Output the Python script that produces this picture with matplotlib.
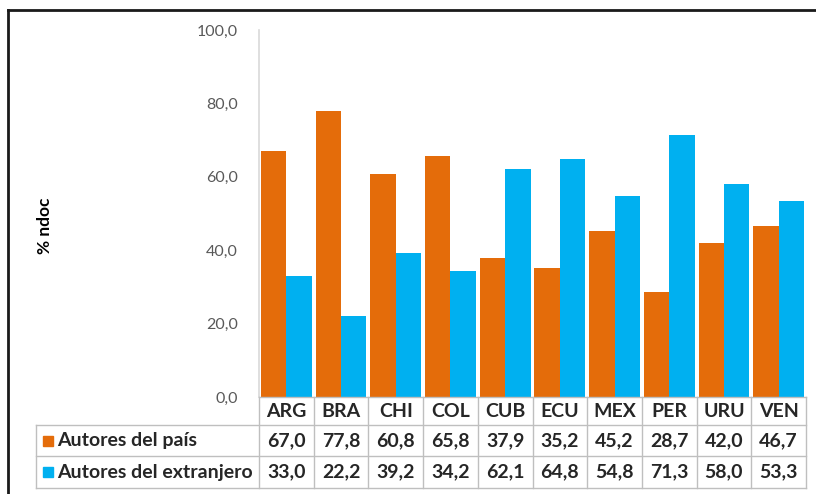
import matplotlib.pyplot as plt
import matplotlib.transforms as mtransforms
from matplotlib.lines import Line2D
from matplotlib.patches import Rectangle

plt.rcParams['font.family'] = ['Lato', 'DejaVu Sans']

paises = ['ARG', 'BRA', 'CHI', 'COL', 'CUB', 'ECU', 'MEX', 'PER', 'URU', 'VEN']
autores_pais = [67.0, 77.8, 60.8, 65.8, 37.9, 35.2, 45.2, 28.7, 42.0, 46.7]
autores_extranjero = [33.0, 22.2, 39.2, 34.2, 62.1, 64.8, 54.8, 71.3, 58.0, 53.3]
series_names = ['Autores del país', 'Autores del extranjero']
y_ticks = [0, 20, 40, 60, 80, 100]

c_pais = '#E46C0A'
c_ext = '#00B0F0'
grid_c = '#BFBFBF'

W, H = 816, 494
fig = plt.figure(figsize=(W / 100, H / 100), dpi=100)

# axes placed in pixel terms of the reference
ax_l, ax_r, ax_t, ax_b = 259, 806, 30, 397
ax = fig.add_axes([ax_l / W, (H - ax_b) / H, (ax_r - ax_l) / W, (ax_b - ax_t) / H])

x = list(range(len(paises)))
bw = 0.465
ax.bar([i - bw / 2 for i in x], autores_pais, width=bw, color=c_pais, zorder=2)
ax.bar([i + bw / 2 for i in x], autores_extranjero, width=bw, color=c_ext, zorder=2)

ax.set_xlim(-0.5, len(paises) - 0.5)
ax.set_ylim(0, 100)
ax.set_yticks(y_ticks)
ax.set_yticklabels([f'{v:.1f}'.replace('.', ',') for v in y_ticks],
                   color='#595959', fontsize=11.5)
ax.tick_params(axis='y', length=0, pad=15)
ax.set_xticks([])
for s in ['top', 'right', 'bottom']:
    ax.spines[s].set_visible(False)
ax.spines['left'].set_color('#D9D9D9')
ax.spines['left'].set_linewidth(1.2)

fig.text(45 / W, 1 - 226 / H, '% ndoc', rotation=90, fontsize=12.5,
         fontweight='bold', ha='center', va='center')

# data table under the bars: x in data units, y in pixels of the figure
px_y = lambda p: 1 - p / H
unit = (ax_r - ax_l) / len(paises)
tab_left = -0.5 - (ax_l - 36) / unit
blend = mtransforms.blended_transform_factory(ax.transData, fig.transFigure)
rows_y = [397, 425, 456, 488]

def hline(x0, x1, yp):
    fig.add_artist(Line2D([x0, x1], [px_y(yp), px_y(yp)], transform=blend,
                          color=grid_c, lw=1.0))

def vline(xd, y0, y1):
    fig.add_artist(Line2D([xd, xd], [px_y(y0), px_y(y1)], transform=blend,
                          color=grid_c, lw=1.0))

hline(-0.5, len(paises) - 0.5, rows_y[0])
for yp in rows_y[1:]:
    hline(tab_left, len(paises) - 0.5, yp)
vline(tab_left, rows_y[1], rows_y[3])
for i in range(len(paises) + 1):
    vline(i - 0.5, rows_y[0], rows_y[3])

tk = dict(transform=blend, ha='center', va='center', fontsize=14,
          fontweight='bold', color='#262626')
for i, p in enumerate(paises):
    fig.text(i, px_y((rows_y[0] + rows_y[1]) / 2), p, **tk)
    fig.text(i, px_y((rows_y[1] + rows_y[2]) / 2), f'{autores_pais[i]:.1f}'.replace('.', ','), **tk)
    fig.text(i, px_y((rows_y[2] + rows_y[3]) / 2), f'{autores_extranjero[i]:.1f}'.replace('.', ','), **tk)

for k, (name, col) in enumerate(zip(series_names, [c_pais, c_ext])):
    yc = (rows_y[k + 1] + rows_y[k + 2]) / 2
    fig.add_artist(Rectangle((43 / W, px_y(yc + 5)), 10 / W, 10 / H,
                             transform=fig.transFigure, color=col))
    fig.text(57 / W, px_y(yc), name, ha='left', va='center', fontsize=14,
             fontweight='bold', color='#262626')

# dark frame on the left and top edges
fig.add_artist(Line2D([8 / W, 8 / W], [0, px_y(10)], transform=fig.transFigure,
                      color='#1a1a1a', lw=2))
fig.add_artist(Line2D([8 / W, 1], [px_y(10), px_y(10)], transform=fig.transFigure,
                      color='#1a1a1a', lw=2))

fig.savefig('out.png', dpi=100)
